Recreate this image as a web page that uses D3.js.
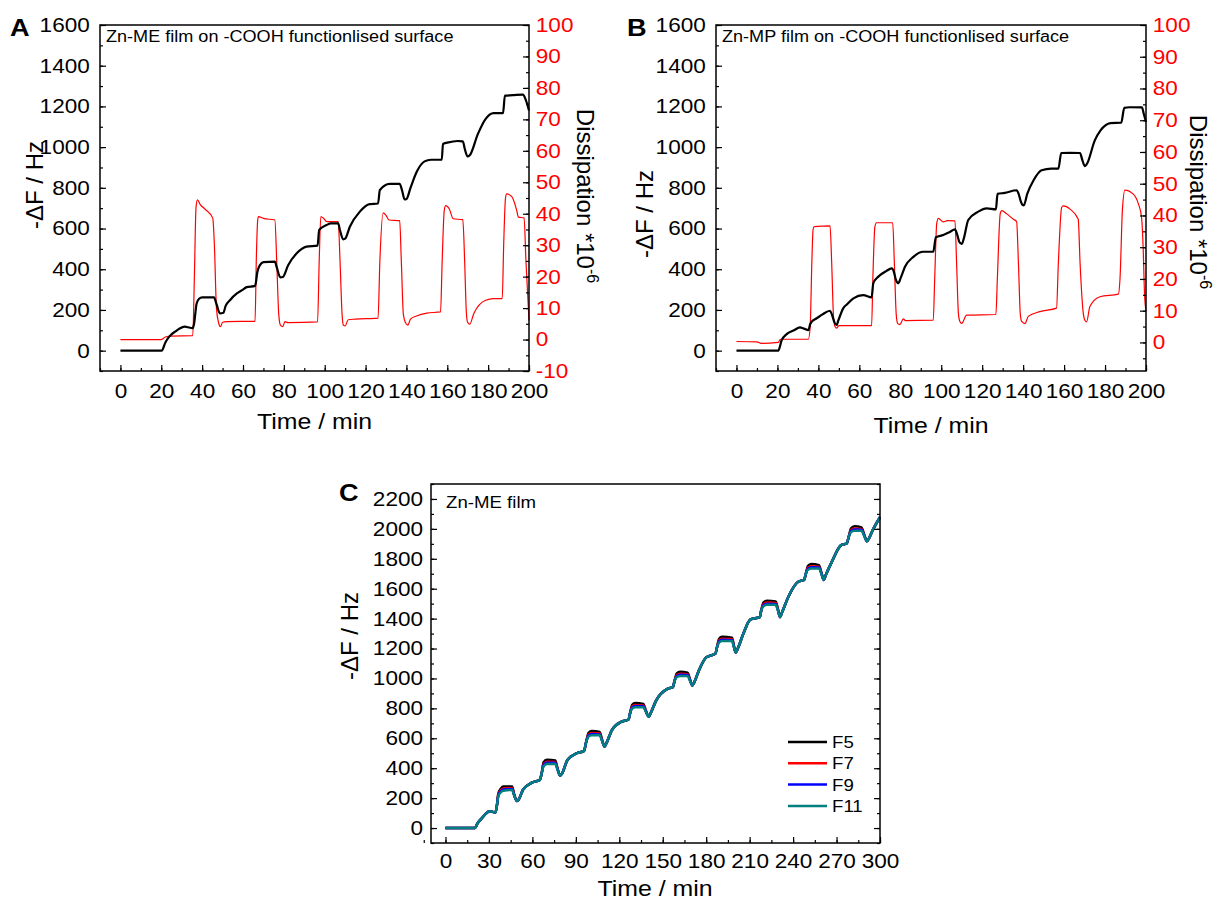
<!DOCTYPE html>
<html>
<head>
<meta charset="utf-8">
<script src="https://d3js.org/d3.v7.min.js"></script>
<style>
  body { margin: 0; background: #fff; }
  svg text { font-family: "Liberation Sans", Arial, Helvetica, sans-serif; }
</style>
</head>
<body>
<script>
// ---- panel A : Zn-ME film on -COOH surface ----
const timeFA = [0,20.2,22,24,27,31.6,33,35.4,36,37.3,38.5,40,45.8,47,48.7,50.4,51.5,53.6,57,60,61.8,65.9,66.4,67,68.3,70,75.6,76.5,78.3,79.5,82.1,86.3,91.1,96.5,97.3,100.9,103,106.6,107.5,109.1,110,112.3,117.2,122,126.1,127,131.8,136.7,137.8,139.1,140,142,145.1,148.9,152,157.3,157.9,160,165,167.6,168.6,169.9,171,175,178.8,182.6,187.3,188.2,192,197,198.5,200];
const freqA  = [0,0,40,70,95,118,115,111,130,232,255,262,262,230,183,186,220,248,281,300,312,318,340,385,420,435,437,410,360,362,420,478,511,516,593,617,625,625,590,547,550,609,683,720,723,789,819,819,790,743,745,800,880,930,938,938,1016,1022,1030,1028,990,954,960,1065,1139,1167,1167,1253,1255,1258,1230,1180];
const timeDA = [0,20,22,25,35.4,36.2,37,37.7,39,41.5,45.2,46,47,48,49,50,52,65.9,66.5,67.2,67.6,70,75.6,76.5,77.5,78.3,79.5,80.5,82,96.5,97.3,98.1,99.5,101,106.6,107.5,108.5,109.1,110,111.5,115,126.1,127,128.6,130,131.5,136.7,137.5,138.5,139.5,140.7,142,145,150,156.7,157.5,158.5,159.2,161,162.9,167.6,168.5,169.3,169.9,171,173,178.8,182.6,186.9,187.6,188.5,189.1,191.5,194,194.8,197.6,198.5,200];
const dissA  = [0,0,0.8,1.1,1.2,20,42,44.4,43,41.4,38.6,30,10,5.5,4.1,5.5,5.7,5.8,25,38,39.1,38.5,38,25,8,4.6,4.1,5.7,5.4,5.6,25,39.1,38.5,37.5,37.5,25,8,4.6,4.3,6.3,6.5,6.8,25,40.3,39.5,38,37.8,25,8,5.4,4.6,6.5,7.5,8.4,8.8,25,41,42.6,41.5,38.4,38.1,25,9,5.6,4.9,8.3,12.5,13,13,30,45,46.3,45.5,41,38.9,38.7,25,6.1];

// ---- panel B : Zn-MP film on -COOH surface ----
const timeFB = [0,20.4,22.1,24.5,28,31,33,35.1,36,36.7,39.2,42,45.7,46.7,47.8,48.9,49.8,52.2,54,57.1,61.9,66,66.8,68.4,70.1,73,75.8,76.8,77.8,79,80.3,82.3,86.4,91.2,96.1,97.4,101,104,106.7,107.8,108.8,110,111,113.2,118.1,122.2,126.7,127.5,131,136.8,137.8,138.8,139.7,140.3,142,145.1,149,153.8,157.2,158.6,163,167.8,168.8,170.1,171,175,177.8,182.7,187.9,189.4,192,198,199,200];
const freqB  = [0,0,52,81,100,114,108,101,130,142,159,178,196,175,140,126,150,209,228,257,273,262,331,355,371,390,404,390,350,331,360,412,461,486,486,557,568,582,596,570,535,524,550,642,683,699,694,770,775,788,770,735,716,714,770,837,886,894,894,971,972,971,940,907,915,1033,1082,1118,1120,1193,1196,1195,1160,1123];
const timeDB = [0,10,12,20.4,21.5,35.1,36,36.8,37.4,37.9,45.7,46.5,47.4,48.1,48.9,50,66,66.6,67.6,68.4,76.3,77.1,78,78.7,79.8,81.5,82.5,96.1,96.8,97.8,98.6,101,103,106.7,107.5,108.4,109.1,110,112.4,126.7,127.4,128.8,129.5,132,135.2,136.8,137.7,138.6,139.3,140.9,142.5,148.2,156.3,157.2,158.8,159.6,162.9,166.9,167.8,169.4,170.2,171,172.6,177.5,186.5,187.3,188.5,189.7,193.8,196.2,197.8,198.6,199.3,200];
const dissB  = [0.3,0.2,-0.3,0,1,1,5,25,35.5,36.5,36.7,25,8,5,4.5,5.3,5.3,20,36.5,37.7,37.7,25,9,6,5.6,7.4,6.9,7,20,37.5,39.1,38,38.4,38.3,25,9,6.6,6,8.6,8.8,20,40.5,41.5,40.5,38.8,38.1,25,9,6.6,5.9,8.2,9.7,10.8,25,42.5,43,42,38.8,25,9,6.9,6.5,11.3,14.4,15.2,20,42,48,46.7,43.8,39.6,30,15,10];

// ---- panel C : Zn-ME film, overtones ----
const timeC = [0,20.4,22,25,30.6,34.5,35.5,36.5,38.3,40,46,47.3,49.3,50.5,53.6,60,65.1,66.5,67.7,70,75.8,77.2,79.1,80.5,84.2,90.6,95.7,97,98.8,101,106.5,108,109.8,111,114.9,121.3,126.4,127.5,128.9,131,136.6,138.2,140.4,141.5,145.5,153.2,157,158.2,159.6,162,167.2,168.8,170.5,171.8,174.9,180,186.4,187.5,188.9,191,197.9,199,200.4,201.8,205.5,210.6,217,218,219.6,222,228,229.5,231,232.3,237.4,243.8,247.6,248.8,250.2,252.5,257.9,259.5,261.2,262.5,266.8,273.2,277,278.5,280,282.5,287.2,289,291,292.3,294.9,300];
const f5  = [0,0,30,65,112,104,150,230,265,278,277,230,181,190,258,305,322,370,438,456,452,405,351,365,455,500,516,570,636,648,642,595,545,565,655,710,726,770,824,836,830,790,744,765,854,931,942,985,1033,1045,1039,995,953,975,1052,1141,1167,1210,1265,1278,1272,1225,1174,1200,1295,1395,1410,1455,1508,1520,1514,1465,1410,1440,1560,1648,1659,1700,1751,1765,1757,1710,1659,1690,1781,1891,1902,1950,2004,2018,2010,1965,1917,1935,1990,2078];
const f7  = [0,0,30,65,112,104,150,223,254,265,267,225,181,190,258,305,322,370,427,443,442,400,351,365,455,500,516,570,625,635,632,590,545,565,655,710,726,770,813,823,820,785,744,765,854,931,942,985,1022,1032,1029,990,953,975,1052,1141,1167,1210,1254,1265,1262,1220,1174,1200,1295,1395,1410,1455,1497,1507,1504,1460,1410,1440,1560,1648,1659,1700,1740,1750,1747,1705,1659,1690,1781,1891,1902,1950,1993,2003,2000,1960,1917,1935,1990,2078];
const f9  = [0,0,30,65,112,104,150,219,247,258,261,223,181,190,258,305,322,370,420,436,436,398,351,365,455,500,516,570,618,628,626,588,545,565,655,710,726,770,806,816,814,783,744,765,854,931,942,985,1015,1025,1023,988,953,975,1052,1141,1167,1210,1247,1258,1256,1218,1174,1200,1295,1395,1410,1455,1490,1500,1498,1458,1410,1440,1560,1648,1659,1700,1733,1743,1741,1703,1659,1690,1781,1891,1902,1950,1986,1996,1994,1958,1917,1935,1990,2078];
const f11 = [0,0,30,65,112,104,150,215,240,250,255,220,181,190,258,305,322,370,413,428,430,395,351,365,455,500,516,570,611,620,620,585,545,565,655,710,726,770,799,808,808,780,744,765,854,931,942,985,1008,1017,1017,985,953,975,1052,1141,1167,1210,1240,1250,1250,1215,1174,1200,1295,1395,1410,1455,1483,1492,1492,1455,1410,1440,1560,1648,1659,1700,1726,1735,1735,1700,1659,1690,1781,1891,1902,1950,1979,1988,1988,1955,1917,1935,1990,2078];
const seriesNames  = ['F5', 'F7', 'F9', 'F11'];
const seriesColors = ['#000000', '#ff0000', '#0000ff', '#008080'];

// tick values
const tickT200 = d3.range(0, 201, 20), minorT200 = d3.range(-10, 201, 10);
const tickF1600 = d3.range(0, 1601, 200), minorF1600 = d3.range(-100, 1601, 100);
const tickD = d3.range(-10, 101, 10), minorD = d3.range(-10, 101, 5);
const tickT300 = d3.range(0, 301, 30), minorT300 = d3.range(-15, 301, 15);
const tickF2200 = d3.range(0, 2201, 200), minorF2200 = d3.range(-100, 2301, 100);

// the source figure is stretched sideways a little
const SX = 1.13;

const svg = d3.select('body').append('svg').attr('width', 1217).attr('height', 902);

function drawAxis(maker, scale, major, minor, transform, pad, color, showLabels) {
  const gMin = svg.append('g').attr('transform', transform)
    .call(maker(scale).tickValues(minor).tickSize(-3).tickFormat(''));
  const ax = maker(scale).tickValues(major).tickSize(-6).tickPadding(pad)
    .tickFormat(showLabels ? (d => String(d)) : '');
  const gMaj = svg.append('g').attr('transform', transform).call(ax);
  [gMin, gMaj].forEach(g => {
    g.select('.domain').remove();
    g.selectAll('line').attr('stroke', '#000').attr('stroke-width', 1.2);
  });
  gMaj.selectAll('text').attr('fill', color).attr('transform', `scale(${SX},1)`)
    .style('font-size', '20px')
    .style('font-family', '"Liberation Sans", Arial, sans-serif');
}

function frame(x, y) {
  const [x0, x1] = x.range(), [y0, y1] = y.range();
  svg.append('rect').attr('x', x0).attr('y', y1).attr('width', x1 - x0).attr('height', y0 - y1)
    .attr('fill', 'none').attr('stroke', '#000').attr('stroke-width', 1.5);
}

function label(txt, x, y, size, rot, opts = {}) {
  const stretch = rot === 0 ? ` scale(${SX},1)` : '';
  return svg.append('text').attr('transform', `translate(${x},${y}) rotate(${rot})${stretch}`)
    .attr('text-anchor', opts.anchor || 'middle')
    .attr('font-size', size).attr('fill', opts.color || '#000')
    .attr('font-weight', opts.bold ? 'bold' : 'normal')
    .text(txt);
}

function curve(x, y, ts, vs, color, width) {
  const line = d3.line().x(d => x(d[0])).y(d => y(d[1])).curve(d3.curveMonotoneX);
  svg.append('path').datum(d3.zip(ts, vs)).attr('d', line)
    .attr('fill', 'none').attr('stroke', color).attr('stroke-width', width)
    .attr('stroke-linejoin', 'round');
}

function dualPanel(cfg) {
  const x = d3.scaleLinear().domain([-10, 200]).range([cfg.left, cfg.right]);
  const yF = d3.scaleLinear().domain([-100, 1600]).range([371, 25]);
  const yD = d3.scaleLinear().domain([cfg.dMin, 100]).range([371, 25]);

  curve(x, yD, cfg.td, cfg.d, '#ff0000', 1.2);
  curve(x, yF, cfg.tf, cfg.f, '#000000', 2.2);
  frame(x, yF);

  drawAxis(d3.axisBottom, x, tickT200, minorT200, 'translate(0,371)', 13, '#000', true);
  drawAxis(d3.axisLeft, yF, tickF1600, minorF1600, `translate(${cfg.left},0)`, 9, '#000', true);
  drawAxis(d3.axisRight, yD, tickD.filter(v => v >= cfg.dMin), minorD.filter(v => v >= cfg.dMin),
    `translate(${cfg.right},0)`, 6, '#ff0000', true);

  label(cfg.note, cfg.left + 6, 42, 16, 0, { anchor: 'start' });
  label(cfg.letter, cfg.letterX, 36, 24, 0, { anchor: 'start', bold: true });
  label('Time / min', (cfg.left + cfg.right) / 2, cfg.xTitleY, 22, 0);
  label('-\u0394F / Hz', cfg.yTitleX, cfg.yTitleY, 24, -90);
  const d = label('Dissipation *10', cfg.dTitleX, cfg.dTitleY, 24, 90);
  d.append('tspan').attr('dy', -10).attr('font-size', 16).text('-6');
}

dualPanel({
  left: 100, right: 529, dMin: -10,
  tf: timeFA, f: freqA, td: timeDA, d: dissA,
  note: 'Zn-ME film on -COOH functionlised surface', letter: 'A', letterX: 10,
  xTitleY: 429, yTitleX: 43, yTitleY: 185, dTitleX: 577, dTitleY: 196
});
dualPanel({
  left: 716, right: 1146, dMin: -9,
  tf: timeFB, f: freqB, td: timeDB, d: dissB,
  note: 'Zn-MP film on -COOH functionlised surface', letter: 'B', letterX: 627,
  xTitleY: 433, yTitleX: 653, yTitleY: 214, dTitleX: 1190, dTitleY: 202
});

// ---- panel C ----
const xC = d3.scaleLinear().domain([-10, 300]).range([431, 880]);
const yC = d3.scaleLinear().domain([-100, 2300]).range([843, 484]);
[f5, f7, f9, f11].forEach((vals, i) => curve(xC, yC, timeC, vals, seriesColors[i], 2.5));
frame(xC, yC);
drawAxis(d3.axisBottom, xC, tickT300, minorT300, 'translate(0,843)', 11, '#000', true);
drawAxis(d3.axisLeft, yC, tickF2200, minorF2200, 'translate(431,0)', 7, '#000', true);
drawAxis(d3.axisRight, yC, tickF2200, minorF2200, 'translate(880,0)', 8, '#000', false);

label('Zn-ME film', 446, 508, 16.5, 0, { anchor: 'start' });
label('C', 339, 501, 24, 0, { anchor: 'start', bold: true });
label('Time / min', 655, 896, 22, 0);
label('-\u0394F / Hz', 358, 636, 24, -90);

const legend = svg.append('g').selectAll('g').data(seriesNames).join('g')
  .attr('transform', (d, i) => `translate(788,${742 + i * 21.3})`);
legend.append('line').attr('x1', 0).attr('x2', 39).attr('y1', 0).attr('y2', 0)
  .attr('stroke', (d, i) => seriesColors[i]).attr('stroke-width', 2.5);
legend.append('text').attr('transform', `translate(44,6) scale(${SX},1)`)
  .attr('font-size', 16.5).text(d => d);
</script>
</body>
</html>
